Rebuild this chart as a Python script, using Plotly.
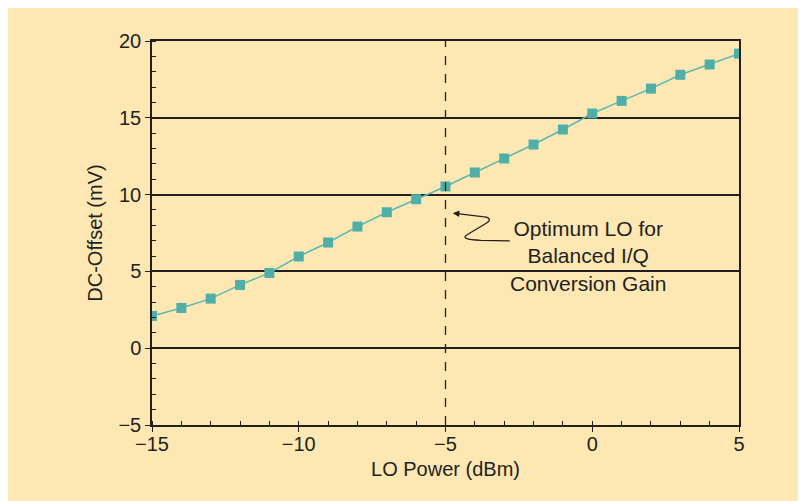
import plotly.graph_objects as go

lo_power = [-15, -14, -13, -12, -11, -10, -9, -8, -7, -6, -5, -4, -3, -2, -1, 0, 1, 2, 3, 4, 5]
dc_offset = [2.10, 2.62, 3.23, 4.12, 4.90, 5.97, 6.88, 7.92, 8.85, 9.70, 10.53, 11.44,
             12.35, 13.26, 14.24, 15.28, 16.10, 16.90, 17.80, 18.47, 19.18]

x_ticks = [-15, -10, -5, 0, 5]
y_ticks = [-5, 0, 5, 10, 15, 20]
optimum_lo = -5
note_text = "Optimum LO for<br>Balanced I/Q<br>Conversion Gain"

BG = "#FDE7B3"
INK = "#231F20"
TEAL = "#4FAFA8"
FONT = "Liberation Sans, Arial, sans-serif"

fig = go.Figure()
fig.add_trace(go.Scatter(
    x=lo_power, y=dc_offset, mode="lines+markers",
    line=dict(color="#5DB7B0", width=1.5),
    marker=dict(symbol="square", size=10, color=TEAL),
    showlegend=False, hoverinfo="x+y"))

# dashed vertical line at optimum
fig.add_shape(type="line", xref="x", yref="y", x0=optimum_lo, x1=optimum_lo,
              y0=-5, y1=20, line=dict(color=INK, width=1.3, dash="dash"), layer="above")

# squiggle callout
fig.add_shape(type="path", xref="x", yref="y",
              path="M -2.81,6.99 L -3.8,7.02 Q -4.55,7.08 -4.25,7.4 L -3.6,8.15 Q -3.35,8.5 -3.75,8.56 L -4.6,8.76",
              line=dict(color=INK, width=1.3))
fig.add_annotation(x=-4.75, y=8.79, ax=-4.5, ay=8.75, axref="x", ayref="y",
                   xref="x", yref="y", text="", showarrow=True,
                   arrowhead=2, arrowsize=1, arrowwidth=1.3, arrowcolor=INK)
fig.add_annotation(x=-0.16, y=6.0, xref="x", yref="y", text=note_text,
                   showarrow=False, align="center",
                   font=dict(family=FONT, size=21, color=INK))

fig.update_layout(
    width=806, height=501,
    margin=dict(l=144, r=75, t=33, b=84),
    paper_bgcolor=BG, plot_bgcolor=BG,
    font=dict(family=FONT, size=20, color=INK),
    xaxis=dict(range=[-15, 5], tickvals=x_ticks, ticktext=["\u221215", "\u221210", "\u22125", "0", "5"],
               showgrid=False, zeroline=False,
               showline=True, linecolor=INK, linewidth=1.5, mirror=True,
               ticks="outside", ticklen=5, tickcolor=INK, tickwidth=1.3,
               ticklabelstandoff=-5,
               minor=dict(dtick=1, ticks="inside", ticklen=4, tickcolor=INK, tickwidth=1.2, showgrid=False),
               title=dict(text="LO Power (dBm)", standoff=8, font=dict(size=20))),
    yaxis=dict(range=[-5, 20], tickvals=y_ticks, ticktext=["\u22125", "0", "5", "10", "15", "20"],
               showgrid=True, gridcolor=INK, gridwidth=1.5, zeroline=False,
               showline=True, linecolor=INK, linewidth=1.5, mirror=True,
               ticks="outside", ticklen=5, tickcolor=INK, tickwidth=1.3,
               ticklabelstandoff=0,
               minor=dict(dtick=1, ticks="inside", ticklen=4, tickcolor=INK, tickwidth=1.2, showgrid=False),
               title=dict(text="DC-Offset (mV)", standoff=10, font=dict(size=20))),
)

fig.write_html("out.html")
